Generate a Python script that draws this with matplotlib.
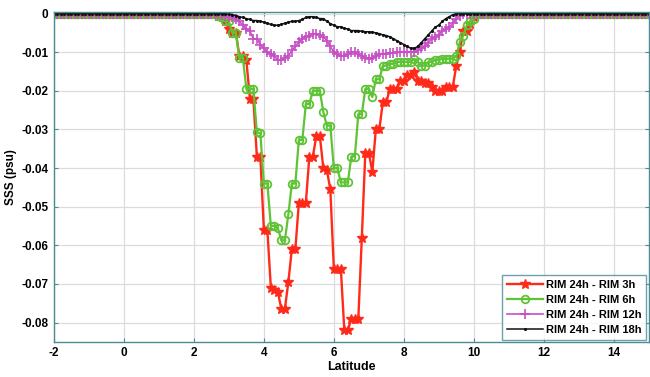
import numpy as np
import matplotlib

matplotlib.use("Agg")
import matplotlib.pyplot as plt  # noqa: E402

plt.rcParams["font.family"] = ["Liberation Sans", "DejaVu Sans"]
plt.rcParams["font.weight"] = "bold"
plt.rcParams["axes.unicode_minus"] = False

# latitude grid, 0.1 deg steps over -2..15; differences are zero outside 2.5..10.2
LAT = np.round(np.arange(-2.0, 15.05, 0.1), 1)
N_LEAD = 45   # -2.0 .. 2.4
N_TAIL = 48   # 10.3 .. 15.0

# values for latitudes 2.5, 2.6, ..., 10.2
DIFF_3H = [
    0, 0, -0.0005, -0.001, -0.002, -0.004, -0.005, -0.005, -0.011, -0.011,
    -0.012, -0.022, -0.022, -0.037, -0.037, -0.056, -0.056, -0.071, -0.0715, -0.072,
    -0.0765, -0.0765, -0.0695, -0.061, -0.061, -0.049, -0.049, -0.049, -0.037, -0.037,
    -0.0317, -0.0317, -0.040, -0.0405, -0.0455, -0.066, -0.066, -0.066, -0.082, -0.082,
    -0.079, -0.079, -0.079, -0.058, -0.036, -0.036, -0.041, -0.030, -0.030, -0.023,
    -0.023, -0.0195, -0.0195, -0.0195, -0.0175, -0.0175, -0.016, -0.016, -0.015, -0.0174,
    -0.0174, -0.018, -0.018, -0.019, -0.020, -0.020, -0.020, -0.019, -0.019, -0.019,
    -0.0135, -0.010, -0.0044, -0.0044, -0.0026, -0.001, 0, 0,
]
DIFF_6H = [
    0, 0, -0.0005, -0.001, -0.002, -0.002, -0.005, -0.005, -0.0115, -0.0115,
    -0.0195, -0.0195, -0.0195, -0.0307, -0.031, -0.044, -0.044, -0.055, -0.055, -0.0555,
    -0.0587, -0.0587, -0.052, -0.044, -0.044, -0.0327, -0.0327, -0.0234, -0.0234, -0.020,
    -0.020, -0.020, -0.0255, -0.029, -0.029, -0.040, -0.040, -0.0437, -0.0437, -0.0437,
    -0.037, -0.037, -0.026, -0.026, -0.0195, -0.0195, -0.0216, -0.017, -0.017, -0.0135,
    -0.0135, -0.013, -0.013, -0.0125, -0.0125, -0.0125, -0.0125, -0.0125, -0.0117, -0.0125,
    -0.0135, -0.0135, -0.0125, -0.0125, -0.012, -0.012, -0.0117, -0.0117, -0.0117, -0.0117,
    -0.011, -0.0073, -0.0057, -0.003, -0.002, -0.0013, 0, 0,
]
DIFF_12H = [
    0, 0, 0, -0.0003, -0.0005, -0.0008, -0.001, -0.0015, -0.002, -0.003,
    -0.004, -0.0045, -0.0065, -0.0065, -0.008, -0.009, -0.010, -0.0105, -0.011, -0.012,
    -0.012, -0.0115, -0.011, -0.0095, -0.0085, -0.0073, -0.0065, -0.006, -0.0057, -0.0052,
    -0.0052, -0.0055, -0.006, -0.007, -0.0085, -0.010, -0.0105, -0.011, -0.011, -0.0105,
    -0.010, -0.010, -0.0105, -0.011, -0.0115, -0.0117, -0.0115, -0.011, -0.0105, -0.0104,
    -0.0104, -0.0102, -0.0102, -0.010, -0.010, -0.010, -0.010, -0.010, -0.010, -0.0095,
    -0.009, -0.0085, -0.0075, -0.0065, -0.006, -0.0055, -0.0045, -0.004, -0.0035, -0.0025,
    -0.0013, -0.0005, 0, 0, 0, 0, 0, 0,
]
DIFF_18H = [
    0, 0, 0, 0, 0, -0.0002, -0.0003, -0.0005, -0.0008, -0.001,
    -0.0013, -0.0015, -0.0018, -0.0018, -0.002, -0.0022, -0.0025, -0.0028, -0.003, -0.003,
    -0.0028, -0.0025, -0.0022, -0.002, -0.002, -0.0018, -0.0015, -0.001, -0.0008, -0.0008,
    -0.001, -0.0013, -0.0013, -0.002, -0.0026, -0.003, -0.0034, -0.0034, -0.0038, -0.004,
    -0.0044, -0.0044, -0.0044, -0.0046, -0.0047, -0.0047, -0.0048, -0.005, -0.0052, -0.0055,
    -0.0057, -0.006, -0.0065, -0.007, -0.0075, -0.008, -0.0085, -0.009, -0.009, -0.0085,
    -0.0075, -0.0065, -0.0055, -0.0045, -0.0035, -0.003, -0.002, -0.0013, -0.0008, -0.0003,
    0, 0, 0, 0, 0, 0, 0, 0,
]

LABELS = ["RIM 24h - RIM 3h", "RIM 24h - RIM 6h", "RIM 24h - RIM 12h", "RIM 24h - RIM 18h"]
X_TICKS = [-2, 0, 2, 4, 6, 8, 10, 12, 14]
Y_TICKS = [0, -0.01, -0.02, -0.03, -0.04, -0.05, -0.06, -0.07, -0.08]

STYLES = [
    dict(color="#ff2a1a", marker="*", markersize=7, markerfacecolor="#ff2a1a", linewidth=1.7),
    dict(color="#5fc435", marker="o", markersize=5.5, markerfacecolor="none",
         markeredgewidth=1.3, linewidth=1.6),
    dict(color="#c64fc6", marker="+", markersize=7, markeredgewidth=1.2, linewidth=1.2),
    dict(color="#111111", marker=".", markersize=2.5, linewidth=1.1),
]


def full(values):
    return np.concatenate([np.zeros(N_LEAD), values, np.zeros(N_TAIL)])


fig = plt.figure(figsize=(6.5, 3.77), dpi=100)
ax = fig.add_axes([0.083, 0.093, 0.915, 0.875])

for vals, label, style in zip([DIFF_3H, DIFF_6H, DIFF_12H, DIFF_18H], LABELS, STYLES):
    ax.plot(LAT, full(vals), label=label, **style)

ax.set_xlim(-2, 15)
ax.set_ylim(-0.085, 0.0004)
ax.set_xticks(X_TICKS)
ax.set_yticks(Y_TICKS)
ax.set_yticklabels([f"{t:g}" for t in Y_TICKS])
ax.grid(True, color="#dcdcdc", linewidth=0.9)
ax.tick_params(direction="in", length=3, labelsize=8.5, color="#4a8c94",
               top=True, right=True, pad=4)
for spine in ax.spines.values():
    spine.set_color("#4a8c94")
    spine.set_linewidth(1.0)
ax.set_xlabel("Latitude", fontsize=9, fontweight="bold", labelpad=1)
ax.set_ylabel("SSS (psu)", fontsize=8.5, fontweight="bold", labelpad=3)

leg = ax.legend(loc="lower right", fontsize=8, frameon=True, fancybox=False,
                borderpad=0.45, labelspacing=0.45, handlelength=3.2,
                handletextpad=0.3, borderaxespad=0.2)
leg.get_frame().set_edgecolor("#4a8c94")
leg.get_frame().set_linewidth(1.0)
for txt in leg.get_texts():
    txt.set_fontweight("bold")

fig.savefig("out.png", dpi=100)
